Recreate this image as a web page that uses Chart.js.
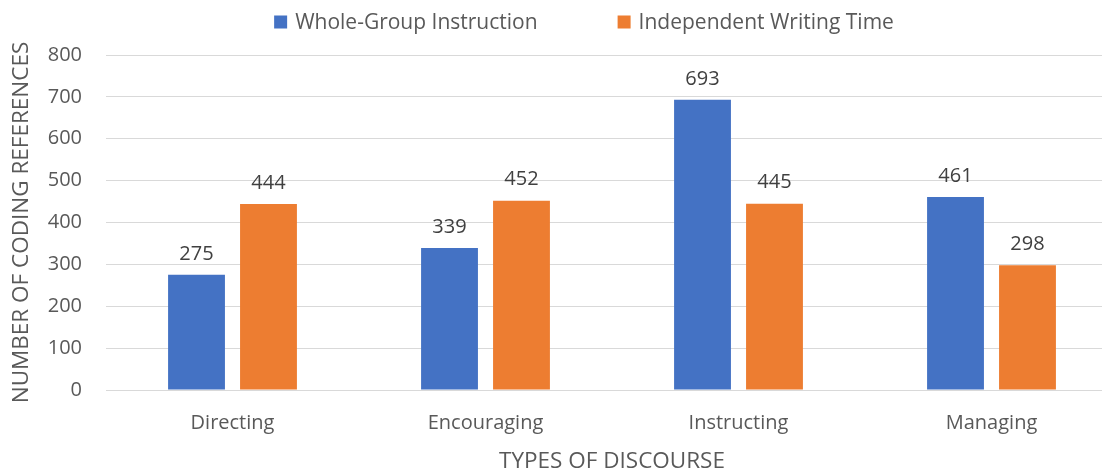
<!DOCTYPE html>
<html>
<head>
<meta charset="utf-8">
<script src="https://cdn.jsdelivr.net/npm/chart.js@4"></script>
<style>
  html, body { margin: 0; padding: 0; background: #fff; overflow: hidden; }
  #wrap { width: 1118px; height: 469px; }
</style>
</head>
<body>
<div id="wrap"><canvas id="chart"></canvas></div>
<script>
const categories = ['Directing', 'Encouraging', 'Instructing', 'Managing'];
const wholeGroup = [275, 339, 693, 461];
const independent = [444, 452, 445, 298];
const yTicks = [0, 100, 200, 300, 400, 500, 600, 700, 800];

const FONT = '"Open Sans", sans-serif';
const SIZE = 20;
const TITLE_SIZE = 22.5;
const TXT = '#595959';

// value labels above each bar
const barLabels = {
  id: 'barLabels',
  afterDatasetsDraw(chart) {
    const ctx = chart.ctx;
    ctx.save();
    ctx.font = SIZE + 'px ' + FONT;
    ctx.fillStyle = '#404040';
    ctx.textAlign = 'center';
    ctx.textBaseline = 'bottom';
    chart.data.datasets.forEach((ds, i) => {
      chart.getDatasetMeta(i).data.forEach((bar, j) => {
        ctx.fillText(ds.data[j], bar.x, bar.y - 11);
      });
    });
    ctx.restore();
  }
};

// legend drawn by hand so it can sit a little right of the canvas centre
const topLegend = {
  id: 'topLegend',
  afterDraw(chart) {
    const ctx = chart.ctx;
    ctx.save();
    ctx.font = '21px ' + FONT;
    ctx.textBaseline = 'middle';
    const box = 13, gapBox = 8, gapItem = 80, y = 22;
    const items = chart.data.datasets.map(ds => ({ text: ds.label, color: ds.backgroundColor }));
    const total = items.reduce((s, it) => s + box + gapBox + ctx.measureText(it.text).width, 0) + gapItem * (items.length - 1);
    let x = 584 - total / 2;
    items.forEach(it => {
      ctx.fillStyle = it.color;
      ctx.fillRect(x, y - box / 2, box, box);
      x += box + gapBox;
      ctx.fillStyle = TXT;
      ctx.fillText(it.text, x, y + 1);
      x += ctx.measureText(it.text).width + gapItem;
    });
    ctx.restore();
  }
};

new Chart(document.getElementById('chart'), {
  type: 'bar',
  data: {
    labels: categories,
    datasets: [
      { label: 'Whole-Group Instruction', data: wholeGroup, backgroundColor: '#4472C4' },
      { label: 'Independent Writing Time', data: independent, backgroundColor: '#ED7D31' }
    ]
  },
  options: {
    responsive: true,
    maintainAspectRatio: false,
    animation: false,
    categoryPercentage: 0.569,
    barPercentage: 0.79,
    layout: { padding: { left: 2, right: 0, top: 55, bottom: 0 } },
    plugins: {
      legend: { display: false },
      tooltip: { enabled: false }
    },
    scales: {
      x: {
        grid: { display: false },
        border: { color: '#D9D9D9', width: 1 },
        ticks: { font: { family: FONT, size: SIZE }, color: TXT, padding: 13 },
        title: {
          display: true,
          text: 'TYPES OF DISCOURSE',
          font: { family: FONT, size: TITLE_SIZE },
          color: TXT,
          padding: { top: 0, bottom: -6 }
        },
        afterFit(scale) { scale.height = 79; }
      },
      y: {
        min: 0,
        max: 800,
        afterBuildTicks(scale) { scale.ticks = yTicks.map(v => ({ value: v })); },
        grid: { color: '#D9D9D9', lineWidth: 1, drawTicks: false },
        border: { display: false },
        ticks: { font: { family: FONT, size: SIZE }, color: TXT, padding: 24 },
        title: {
          display: true,
          text: 'NUMBER OF CODING REFERENCES',
          font: { family: FONT, size: TITLE_SIZE },
          color: TXT,
          padding: { top: 6, bottom: 0 }
        },
        afterFit(scale) { scale.width = 104; }
      }
    }
  },
  plugins: [barLabels, topLegend]
});
</script>
</body>
</html>
